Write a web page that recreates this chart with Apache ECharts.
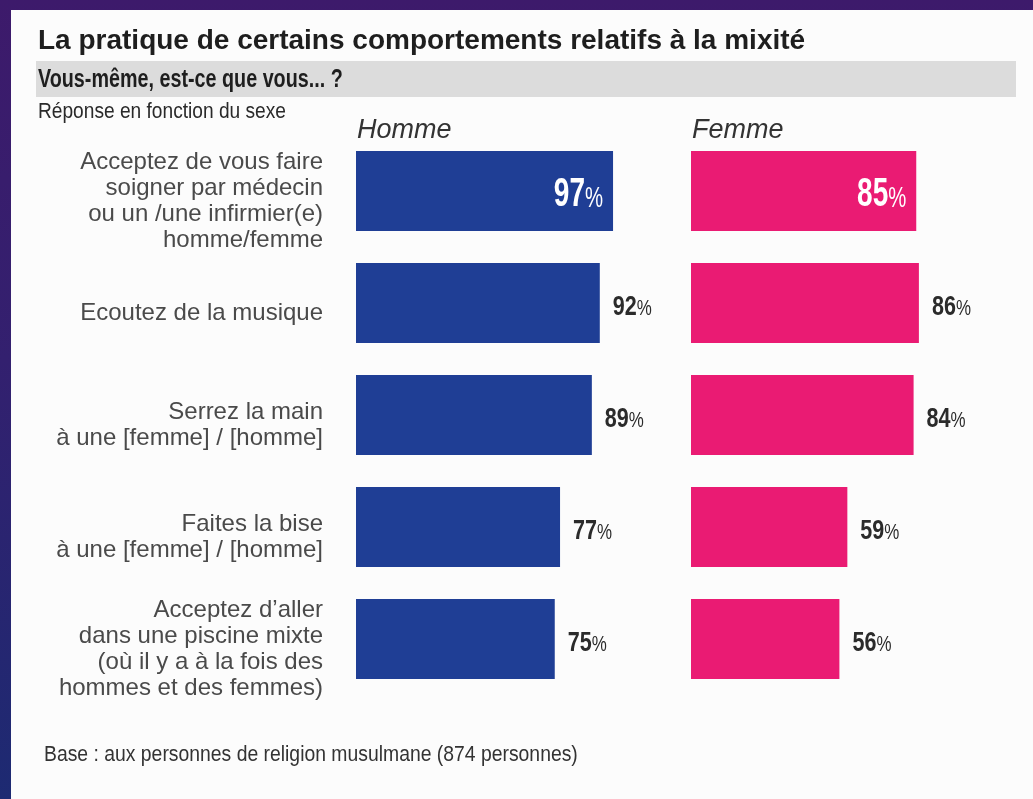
<!DOCTYPE html>
<html>
<head>
<meta charset="utf-8">
<script src="https://cdn.jsdelivr.net/npm/echarts@6/dist/echarts.min.js"></script>
<style>
  html, body { margin: 0; padding: 0; width: 1033px; height: 799px; overflow: hidden;
    background: linear-gradient(to bottom, #3d1a6b 0%, #33206f 45%, #1d2a72 100%); }
  #chart { width: 1033px; height: 799px; }
</style>
</head>
<body>
<div id="chart"></div>
<script>
const categories = [
  "Acceptez de vous faire\nsoigner par médecin\nou un /une infirmier(e)\nhomme/femme",
  "Ecoutez de la musique",
  "Serrez la main\nà une [femme] / [homme]",
  "Faites la bise\nà une [femme] / [homme]",
  "Acceptez d’aller\ndans une piscine mixte\n(où il y a à la fois des\nhommes et des femmes)"
];
const hommeValues = [97, 92, 89, 77, 75];
const femmeValues = [85, 86, 84, 59, 56];
const seriesNames = ["Homme", "Femme"];
const titleText = "La pratique de certains comportements relatifs à la mixité";
const questionText = "Vous-même, est-ce que vous... ?";
const subText = "Réponse en fonction du sexe";
const baseText = "Base : aux personnes de religion musulmane (874 personnes)";

const sans = '"Liberation Sans", Arial, Helvetica, sans-serif';

function labelSeries(values, axisIdx) {
  return {
    type: 'custom',
    xAxisIndex: axisIdx, yAxisIndex: axisIdx,
    z: 5,
    data: values.map(function (v, i) { return [v, i]; }),
    encode: { x: 0, y: 1 },
    renderItem: function (params, api) {
      const v = api.value(0);
      const idx = api.value(1);
      const p = api.coord([v, idx]);
      const inside = idx === 0;
      if (inside) {
        return {
          type: 'text', x: p[0] - 10, y: p[1] + 4, scaleX: 0.7, scaleY: 1,
          style: {
            text: '{n|' + v + '}{p|%}', align: 'right', verticalAlign: 'middle',
            rich: {
              n: { fontFamily: sans, fontWeight: 'bold', fontSize: 40, fill: '#ffffff' },
              p: { fontFamily: sans, fontSize: 29, fill: '#ffffff', padding: [8, 0, 0, 0] }
            }
          }
        };
      }
      return {
        type: 'text', x: p[0] + 13, y: p[1] + 4, scaleX: 0.77, scaleY: 1,
        style: {
          text: '{n|' + v + '}{p|%}', align: 'left', verticalAlign: 'middle',
          rich: {
            n: { fontFamily: sans, fontWeight: 'bold', fontSize: 28, fill: '#2b2b2b' },
            p: { fontFamily: sans, fontSize: 22, fill: '#2b2b2b', padding: [4, 0, 0, 0] }
          }
        }
      };
    }
  };
}

const chart = echarts.init(document.getElementById('chart'), null, { renderer: 'canvas' });
chart.setOption({
  backgroundColor: 'transparent',
  animation: false,
  graphic: [
    { type: 'rect', silent: true, z: -10, shape: { x: 11, y: 10, width: 1022, height: 789 }, style: { fill: '#fcfcfc' } },
    { type: 'rect', silent: true, z: -9, shape: { x: 36, y: 61, width: 980, height: 36 }, style: { fill: '#dcdcdc' } },
    { type: 'text', x: 38, y: 41, style: { text: titleText, font: 'bold 28px ' + sans, fill: '#1e1e1e', textVerticalAlign: 'middle' } },
    { type: 'text', x: 38, y: 80, scaleX: 0.79, style: { text: questionText, font: 'bold 25px ' + sans, fill: '#1e1e1e', textVerticalAlign: 'middle' } },
    { type: 'text', x: 38, y: 112, scaleX: 0.87, style: { text: subText, font: '22px ' + sans, fill: '#2a2a2a', textVerticalAlign: 'middle' } },
    { type: 'text', x: 357, y: 130, style: { text: seriesNames[0], font: 'italic 27px ' + sans, fill: '#333333', textVerticalAlign: 'middle' } },
    { type: 'text', x: 692, y: 130, style: { text: seriesNames[1], font: 'italic 27px ' + sans, fill: '#333333', textVerticalAlign: 'middle' } },
    { type: 'text', x: 44, y: 755, scaleX: 0.88, style: { text: baseText, font: '22px ' + sans, fill: '#333333', textVerticalAlign: 'middle' } }
  ],
  grid: [
    { left: 356, top: 135, width: 265, height: 560 },
    { left: 691, top: 135, width: 265, height: 560 },
    { left: 356, top: 145, width: 265, height: 560 }
  ],
  xAxis: [
    { gridIndex: 0, type: 'value', min: 0, max: 100, show: false },
    { gridIndex: 1, type: 'value', min: 0, max: 100, show: false },
    { gridIndex: 2, type: 'value', min: 0, max: 100, show: false }
  ],
  yAxis: [
    {
      gridIndex: 0, type: 'category', data: categories, inverse: true,
      axisLine: { show: false }, axisTick: { show: false }, axisLabel: { show: false }
    },
    {
      gridIndex: 1, type: 'category', data: categories, inverse: true,
      axisLine: { show: false }, axisTick: { show: false }, axisLabel: { show: false }
    },
    {
      gridIndex: 2, type: 'category', data: categories, inverse: true,
      axisLine: { show: false }, axisTick: { show: false },
      axisLabel: {
        margin: 33, align: 'right', fontFamily: sans, fontSize: 24, lineHeight: 26,
        color: '#4a4a4a'
      }
    }
  ],
  series: [
    {
      name: seriesNames[0], type: 'bar', xAxisIndex: 0, yAxisIndex: 0,
      barWidth: 80, data: hommeValues,
      itemStyle: { color: '#1f3e95' }
    },
    {
      name: seriesNames[1], type: 'bar', xAxisIndex: 1, yAxisIndex: 1,
      barWidth: 80, data: femmeValues,
      itemStyle: { color: '#ea1b73' }
    },
    labelSeries(hommeValues, 0),
    labelSeries(femmeValues, 1)
  ]
});
</script>
</body>
</html>
